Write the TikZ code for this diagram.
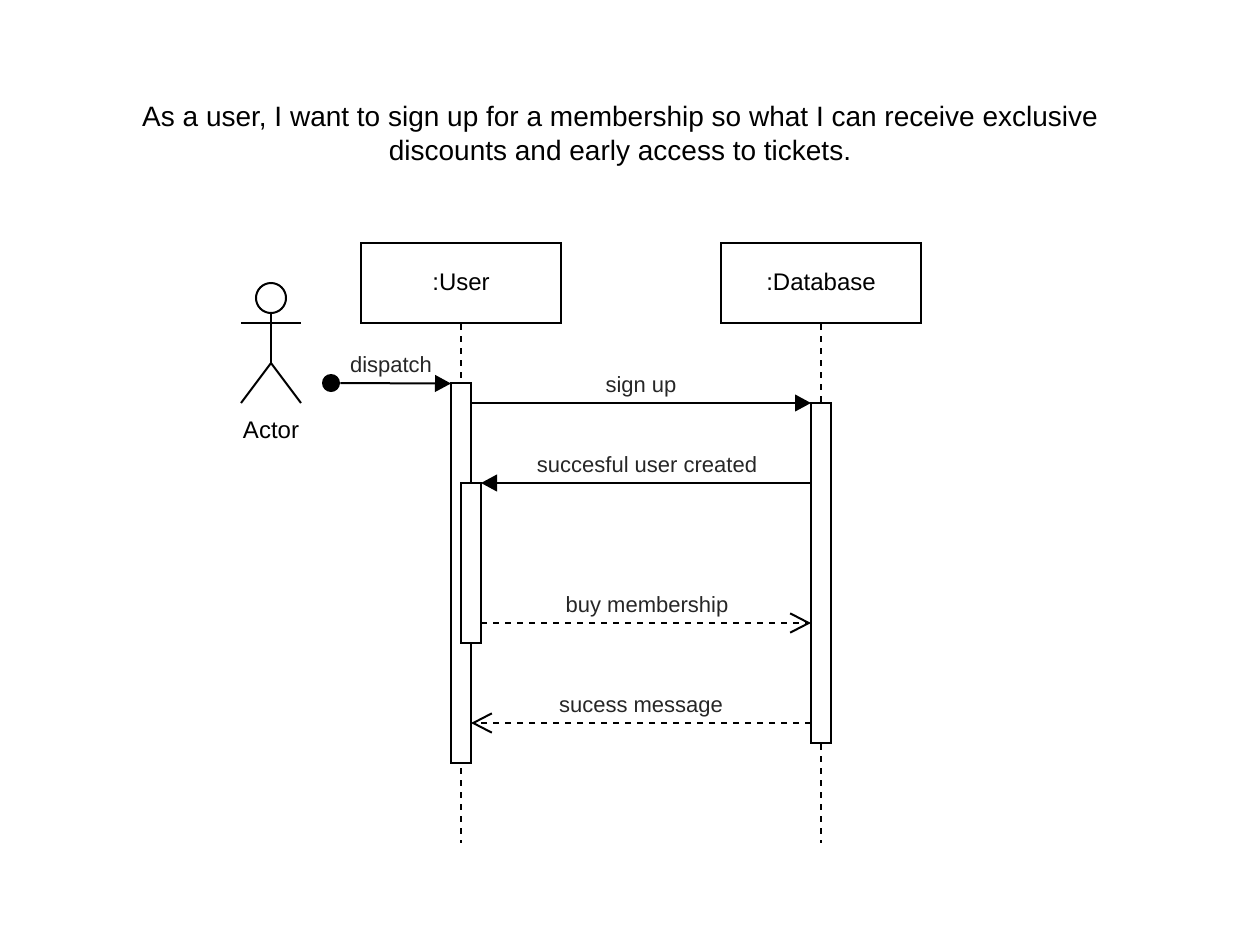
\documentclass[tikz,border=0pt]{standalone}
\usepackage{fontspec}
\setmainfont{Liberation Sans}
\usetikzlibrary{arrows.meta}
\tikzset{
  titleStyle/.style = {align = center, inner sep = 0pt, font = \fontsize{21pt}{25.5pt}\selectfont},
  objectStyle/.style = {shape = rectangle, draw, line width = 1.5pt, minimum width = 150pt, minimum height = 60pt, inner sep = 0pt},
  nameStyle/.style = {anchor = base, inner sep = 0pt, font = \fontsize{18pt}{21pt}\selectfont},
  barStyle/.style = {shape = rectangle, draw, fill = white, line width = 1.5pt, minimum width = 15pt, inner sep = 0pt},
  labelStyle/.style = {anchor = base, inner sep = 0pt, font = \fontsize{16.5pt}{20pt}\selectfont, text = black!85},
  lifeStyle/.style = {line width = 1.5pt, dash pattern = on 4.5pt off 4.5pt},
  callStyle/.style = {line width = 1.5pt, -{Triangle[length = 12pt, width = 12.5pt]}},
  replyStyle/.style = {line width = 1.5pt, dash pattern = on 4.5pt off 4.5pt, -{Straight Barb[length = 14pt, width = 14.5pt]}},
  actorStyle/.style = {line width = 1.5pt}
}
\begin{document}
\begin{tikzpicture}[x = 0.75pt, y = -0.75pt]
\useasboundingbox (0,0) rectangle (1240,946);
\node[titleStyle] (title) at (620,136) {As a user, I want to sign up for a membership so what I can receive exclusive\\discounts and early access to tickets.};
\node[objectStyle] (user) at (461,283) {};
\node[objectStyle] (database) at (821,283) {};
\node[nameStyle] (userName) at (461,290) {:User};
\node[nameStyle] (databaseName) at (821,290) {:Database};
\coordinate (userEnd) at (461,843);
\coordinate (databaseEnd) at (821,843);
\draw[lifeStyle] (user) -- (userEnd);
\draw[lifeStyle] (database) -- (databaseEnd);
\node[barStyle, minimum height = 285pt] (userBar) at (461,573) {};
\node[barStyle, minimum height = 255pt] (databaseBar) at (821,573) {};
\node[barStyle, minimum height = 120pt] (innerBar) at (471,563) {};
\node[shape = circle, draw, line width = 1.5pt, minimum size = 22.5pt, inner sep = 0pt] (actorHead) at (271,298) {};
\coordinate (actorHip) at (271,363);
\coordinate (armLeft) at (241,323);
\coordinate (armRight) at (301,323);
\coordinate (legLeft) at (241,403);
\coordinate (legRight) at (301,403);
\draw[actorStyle] (actorHead) -- (actorHip);
\draw[actorStyle] (armLeft) -- (armRight);
\draw[actorStyle] (legLeft) -- (actorHip) -- (legRight);
\node[nameStyle] (actorName) at (271,438) {Actor};
\node[shape = circle, fill, minimum size = 13.5pt, inner sep = 0pt] (start) at (331,383) {};
\coordinate (dispatchEnd) at (451,383.5);
\coordinate (signFrom) at (471,403);
\coordinate (signTo) at (811,403);
\coordinate (createdFrom) at (811,483);
\coordinate (createdTo) at (481,483);
\coordinate (buyFrom) at (481,623);
\coordinate (buyTo) at (811,623);
\coordinate (messageFrom) at (811,723);
\coordinate (messageTo) at (471,723);
\draw[callStyle] (start) -- (dispatchEnd);
\draw[callStyle] (signFrom) -- (signTo);
\draw[callStyle] (createdFrom) -- (createdTo);
\draw[replyStyle] (buyFrom) -- (buyTo);
\draw[replyStyle] (messageFrom) -- (messageTo);
\node[labelStyle] (dispatchLabel) at (391,372.5) {dispatch};
\node[labelStyle] (signLabel) at (641,392.5) {sign up};
\node[labelStyle] (createdLabel) at (647,472.5) {succesful user created};
\node[labelStyle] (buyLabel) at (647,612.5) {buy membership};
\node[labelStyle] (messageLabel) at (641,712.5) {sucess message};
\end{tikzpicture}
\end{document}
